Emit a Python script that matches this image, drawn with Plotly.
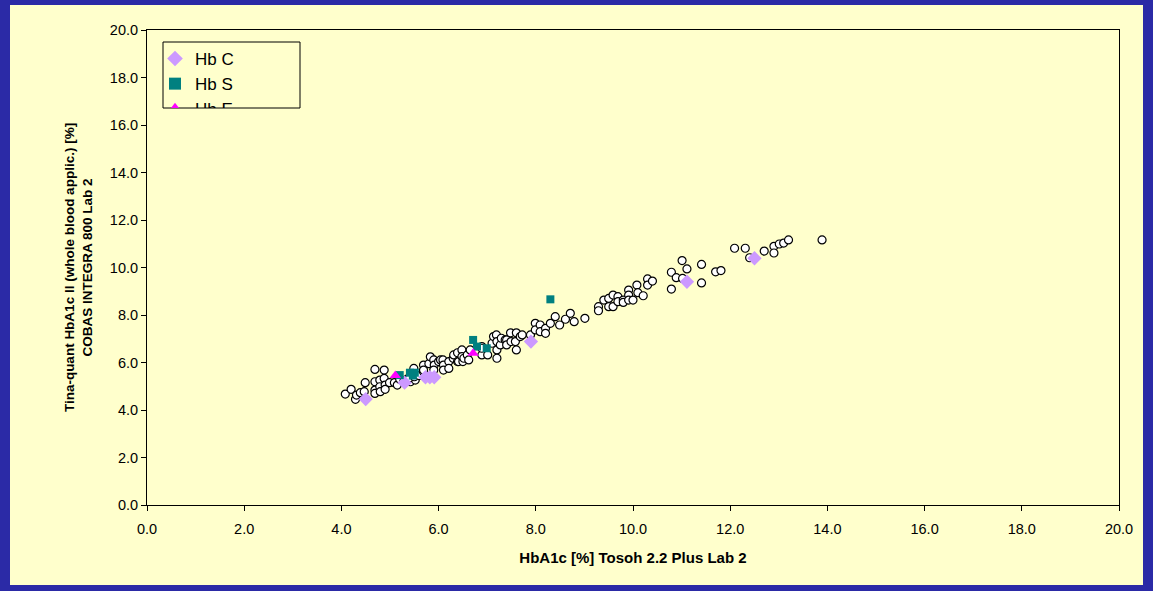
import plotly.graph_objects as go

# ---------------- data ----------------
circle_x = [4.08, 4.20, 4.29, 4.31, 4.39, 4.47, 4.49, 4.69, 4.88, 4.69, 4.69, 4.69, 4.79, 4.79, 4.80,
            4.88, 4.90, 4.90, 4.99, 5.09, 5.15, 5.20, 5.28, 5.35, 5.42, 5.52, 5.49, 5.40, 5.50, 5.60,
            5.69, 5.69, 5.69, 5.80, 5.83, 5.90, 5.91, 5.90, 6.00, 6.04, 6.09, 6.10, 6.10, 6.21, 6.21,
            6.30, 6.31, 6.39, 6.39, 6.41, 6.48, 6.48, 6.50, 6.52, 6.59, 6.62, 6.65, 6.89, 6.89, 6.89,
            7.01, 7.10, 7.13, 7.19, 7.20, 7.20, 7.20, 7.27, 7.29, 7.37, 7.40, 7.40, 7.48, 7.49, 7.58,
            7.60, 7.60, 7.68, 7.72, 7.89, 7.99, 7.99, 8.09, 8.09, 8.20, 8.20, 8.30, 8.40, 8.49, 8.61,
            8.71, 8.79, 9.01, 9.29, 9.29, 9.40, 9.50, 9.50, 9.59, 9.59, 9.69, 9.69, 9.80, 9.80, 9.91,
            9.91, 9.91, 10.00, 10.08, 10.10, 10.21, 10.30, 10.30, 10.40, 10.79, 10.79, 10.89, 11.01,
            11.02, 11.11, 11.41, 11.41, 11.70, 11.81, 12.09, 12.31, 12.40, 12.70, 12.90, 12.90, 13.01,
            13.10, 13.20, 13.89]
circle_y = [4.67, 4.87, 4.45, 4.63, 4.73, 4.77, 5.15, 5.71, 5.68, 5.19, 4.84, 4.70, 5.26, 4.98, 4.77,
            5.33, 5.05, 4.87, 5.15, 5.15, 5.05, 5.30, 5.19, 5.30, 5.19, 5.26, 5.75, 5.35, 5.40, 5.45,
            5.89, 5.61, 5.68, 5.95, 6.24, 6.11, 5.89, 5.68, 6.04, 6.11, 6.11, 5.89, 5.68, 6.04, 5.75,
            6.18, 6.32, 6.41, 6.04, 6.04, 6.53, 6.25, 6.04, 6.18, 6.32, 6.11, 6.53, 6.67, 6.32, 6.60,
            6.32, 6.81, 7.09, 7.16, 6.88, 6.53, 6.18, 6.74, 7.02, 6.95, 6.95, 6.74, 7.25, 6.88, 6.88,
            7.25, 6.53, 7.09, 7.16, 7.16, 7.65, 7.37, 7.58, 7.30, 7.44, 7.23, 7.65, 7.93, 7.58, 7.82,
            8.07, 7.72, 7.86, 8.35, 8.18, 8.63, 8.35, 8.70, 8.84, 8.35, 8.77, 8.56, 8.63, 8.53, 9.05,
            8.84, 8.63, 8.63, 9.26, 8.94, 8.81, 9.52, 9.26, 9.43, 9.80, 9.09, 9.57, 10.29,
            9.54, 9.94, 10.13, 9.35, 9.82, 9.87, 10.81, 10.81, 10.41, 10.69, 10.89, 10.61, 10.99,
            11.03, 11.16, 11.16]

hbc_x = [4.50, 5.30, 5.73, 5.82, 5.91, 7.90, 11.11, 12.50]
hbc_y = [4.46, 5.15, 5.38, 5.38, 5.38, 6.88, 9.40, 10.39]

hbs_x = [5.20, 5.41, 5.51, 5.47, 6.71, 6.79, 6.99, 8.30]
hbs_y = [5.47, 5.57, 5.57, 5.45, 6.95, 6.67, 6.60, 8.66]

hbe_x = [5.11, 6.71]
hbe_y = [5.45, 6.39]

series_names = ["Hb C", "Hb S", "Hb E"]
axis_ticks = [0, 2, 4, 6, 8, 10, 12, 14, 16, 18, 20]

x_title = "HbA1c [%] Tosoh 2.2 Plus Lab 2"
y_title = "Tina-quant HbA1c II (whole blood applic.) [%]<br>COBAS INTEGRA 800 Lab 2"

# ---------------- figure ----------------
BG = "#FFFFCC"
BLUE = "#2B2AA6"
FONT = "Liberation Sans, Arial, sans-serif"

fig = go.Figure()
fig.add_trace(go.Scatter(
    x=circle_x, y=circle_y, mode="markers", showlegend=False, name="all",
    marker=dict(symbol="circle", size=8, color="white", line=dict(color="black", width=1.2))))
fig.add_trace(go.Scatter(
    x=hbc_x, y=hbc_y, mode="markers", name=series_names[0],
    marker=dict(symbol="diamond", size=11, color="#CC99FF", line=dict(width=0))))
fig.add_trace(go.Scatter(
    x=hbs_x, y=hbs_y, mode="markers", name=series_names[1],
    marker=dict(symbol="square", size=8, color="#008080", line=dict(width=0))))
fig.add_trace(go.Scatter(
    x=hbe_x, y=hbe_y, mode="markers", name=series_names[2],
    marker=dict(symbol="triangle-up", size=10, color="#FF00FF", line=dict(width=0))))

W, H = 1153, 591
L, R, T, B = 147, 34, 30, 86
pw, ph = W - L - R, H - T - B

def px2paper_x(px):
    return (px - L) / pw

def px2paper_y(py):
    return (H - B - py) / ph

# pale yellow card inside the blue frame
fig.add_shape(type="rect", xref="paper", yref="paper",
              x0=px2paper_x(10), x1=px2paper_x(1143),
              y0=px2paper_y(585), y1=px2paper_y(5),
              fillcolor=BG, line=dict(width=0), layer="below")
# legend frame
fig.add_shape(type="rect", xref="paper", yref="paper",
              x0=px2paper_x(163), x1=px2paper_x(300),
              y0=px2paper_y(108), y1=px2paper_y(42),
              fillcolor="rgba(0,0,0,0)", line=dict(width=1, color="black"), layer="above")

axis_common = dict(
    range=[0, 20], tickvals=axis_ticks, tickformat=".1f",
    showgrid=False, zeroline=False, showline=True, linecolor="black", linewidth=1,
    mirror=True, ticks="outside", ticklen=5, tickcolor="black", tickwidth=1,
    tickfont=dict(family=FONT, size=14.5, color="black"),
)

legend = dict(
    x=px2paper_x(155), y=px2paper_y(41), xanchor="left", yanchor="top",
    bgcolor="rgba(0,0,0,0)", borderwidth=0,
    font=dict(family=FONT, size=17, color="black"),
    itemsizing="constant",
)

fig.update_layout(
    width=W, height=H,
    margin=dict(l=L, r=R, t=T, b=B),
    paper_bgcolor=BLUE, plot_bgcolor=BG,
    font=dict(family=FONT, color="black"),
    xaxis=dict(axis_common, ticklabelstandoff=6,
               title=dict(text="<b>" + x_title + "</b>", font=dict(family=FONT, size=15), standoff=16)),
    yaxis=dict(axis_common,
               title=dict(text="<b>" + y_title + "</b>", font=dict(family=FONT, size=13.5), standoff=14)),
    showlegend=True,
)
try:
    fig.update_layout(legend=dict(legend, maxheight=67))
except Exception:
    fig.update_layout(legend=legend)

post = ("var st=document.createElement('style');"
        "st.innerHTML='html,body{margin:0!important;padding:0;background:" + BLUE + ";overflow:hidden}"
        " .legend rect.scrollbar{display:none!important}';"
        "document.head.appendChild(st);")

fig.write_html("out.html", post_script=post, config={"displayModeBar": False})
